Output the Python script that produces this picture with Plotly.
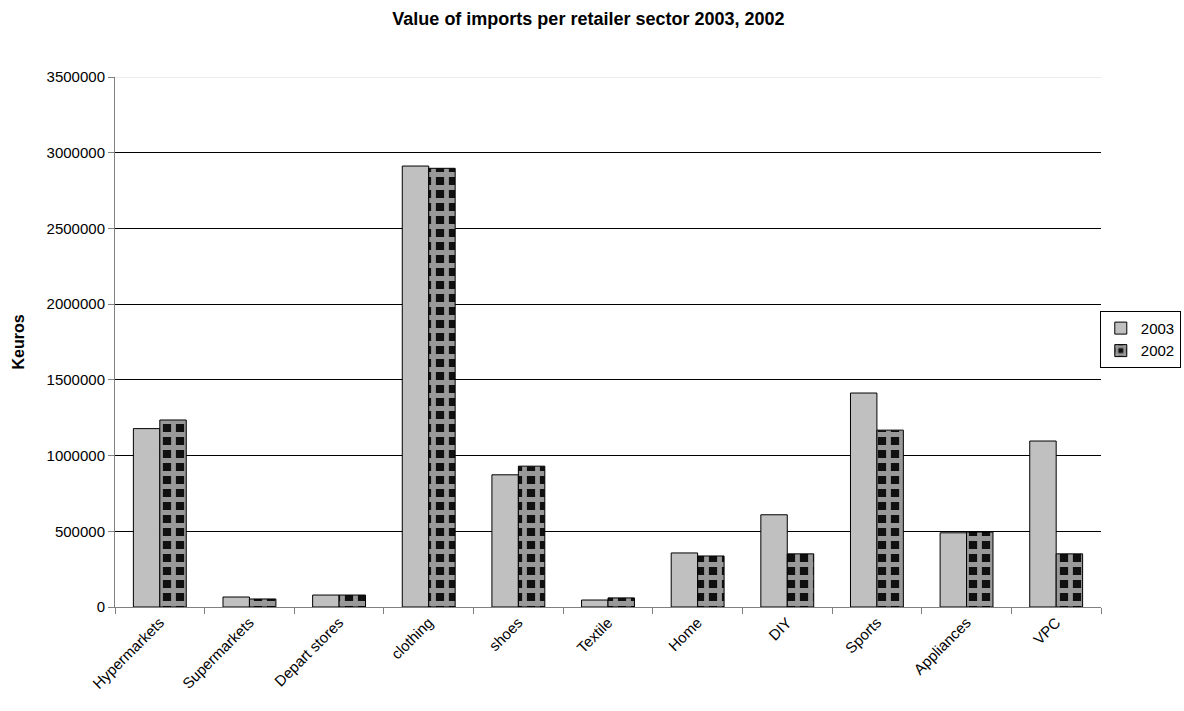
import plotly.graph_objects as go

categories = ["Hypermarkets", "Supermarkets", "Depart stores", "clothing", "shoes",
              "Textile", "Home", "DIY", "Sports", "Appliances", "VPC"]
values_2003 = [1178000, 66000, 79000, 2912000, 873000, 46000, 357000, 609000, 1413000, 490000, 1096000]
values_2002 = [1235000, 53000, 79000, 2897000, 930000, 60000, 337000, 351000, 1168000, 495000, 351000]
y_ticks = [0, 500000, 1000000, 1500000, 2000000, 2500000, 3000000, 3500000]

FONT = "Liberation Sans, Arial, sans-serif"

fig = go.Figure()
fig.add_trace(go.Bar(
    x=categories, y=values_2003, name="2003",
    marker=dict(color="#c0c0c0", line=dict(color="black", width=1)),
))
fig.add_trace(go.Bar(
    x=categories, y=values_2002, name="2002",
    marker=dict(color="#202020", line=dict(color="black", width=1),
                pattern=dict(shape="+", fgcolor="#999999", bgcolor="#101010",
                             size=13, solidity=0.6, fillmode="replace")),
))

L, R_EDGE, W = 115, 1101, 1184
fig.update_layout(
    width=W, height=711,
    paper_bgcolor="white", plot_bgcolor="white",
    margin=dict(l=L, r=0, t=77, b=104),
    barmode="group", bargap=0.41, bargroupgap=0,
    font=dict(family=FONT, size=15, color="black"),
    title=dict(text="<b>Value of imports per retailer sector 2003, 2002</b>",
               xref="container", x=0.497, xanchor="center",
               yref="container", y=0.973, yanchor="middle",
               font=dict(family=FONT, size=18, color="black")),
    legend=dict(x=0.997, xanchor="right", y=0.505, yanchor="middle",
                bordercolor="black", borderwidth=1, bgcolor="white",
                font=dict(family=FONT, size=15), traceorder="normal",
                itemwidth=30, tracegroupgap=0),
    showlegend=True,
    shapes=[dict(type="line", xref="x domain", yref="y", x0=0, x1=1,
                 y0=3500000, y1=3500000, line=dict(color="#d9d9d9", width=1),
                 layer="above")],
)
fig.update_xaxes(
    domain=[0, (R_EDGE - L) / (W - L)],
    type="category", tickangle=-45, tickson="boundaries",
    ticks="outside", ticklen=6, tickcolor="#808080",
    showline=True, linecolor="#808080", linewidth=1,
    showgrid=False, tickfont=dict(family=FONT, size=15),
)
fig.update_yaxes(
    range=[0, 3500000], tickvals=y_ticks, ticktext=[str(v) for v in y_ticks],
    ticks="outside", ticklen=6, tickcolor="#808080",
    showline=True, linecolor="#808080", linewidth=1,
    showgrid=True, gridcolor="black", gridwidth=1,
    zeroline=False,
    title=dict(text="<b>Keuros</b>", font=dict(family=FONT, size=16), standoff=17),
    tickfont=dict(family=FONT, size=15),
)

fig.write_html("out.html")
